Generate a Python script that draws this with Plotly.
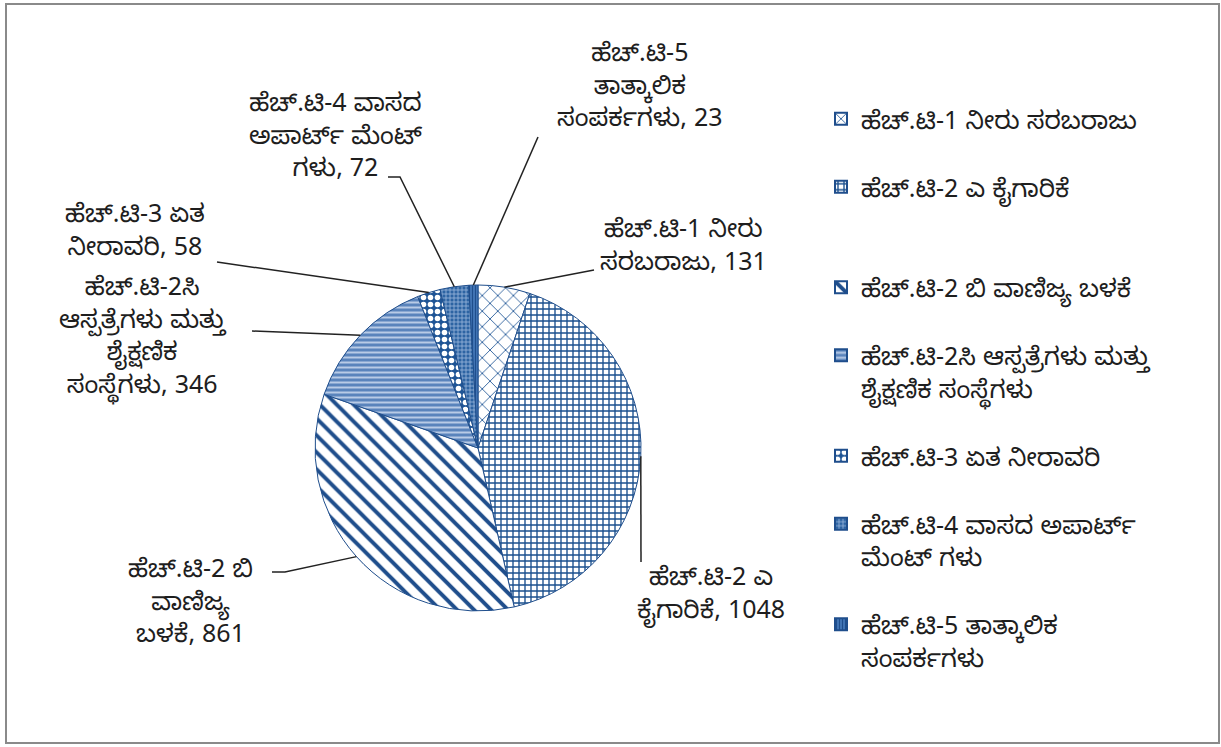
import math
import plotly.graph_objects as go

# ---- data ----
categories = [
    "ಹೆಚ್.ಟಿ-1 ನೀರು ಸರಬರಾಜು",
    "ಹೆಚ್.ಟಿ-2 ಎ ಕೈಗಾರಿಕೆ",
    "ಹೆಚ್.ಟಿ-2 ಬಿ ವಾಣಿಜ್ಯ ಬಳಕೆ",
    "ಹೆಚ್.ಟಿ-2ಸಿ ಆಸ್ಪತ್ರೆಗಳು ಮತ್ತು ಶೈಕ್ಷಣಿಕ ಸಂಸ್ಥೆಗಳು",
    "ಹೆಚ್.ಟಿ-3 ಏತ ನೀರಾವರಿ",
    "ಹೆಚ್.ಟಿ-4 ವಾಸದ ಅಪಾರ್ಟ್ ಮೆಂಟ್ ಗಳು",
    "ಹೆಚ್.ಟಿ-5 ತಾತ್ಕಾಲಿಕ ಸಂಪರ್ಕಗಳು",
]
values = [131, 1048, 861, 346, 58, 72, 23]

legend_names = [
    "ಹೆಚ್.ಟಿ-1 ನೀರು ಸರಬರಾಜು",
    "ಹೆಚ್.ಟಿ-2 ಎ ಕೈಗಾರಿಕೆ",
    "ಹೆಚ್.ಟಿ-2 ಬಿ ವಾಣಿಜ್ಯ ಬಳಕೆ",
    "ಹೆಚ್.ಟಿ-2ಸಿ ಆಸ್ಪತ್ರೆಗಳು ಮತ್ತು<br>ಶೈಕ್ಷಣಿಕ ಸಂಸ್ಥೆಗಳು",
    "ಹೆಚ್.ಟಿ-3 ಏತ ನೀರಾವರಿ",
    "ಹೆಚ್.ಟಿ-4 ವಾಸದ ಅಪಾರ್ಟ್<br>ಮೆಂಟ್ ಗಳು",
    "ಹೆಚ್.ಟಿ-5 ತಾತ್ಕಾಲಿಕ<br>ಸಂಪರ್ಕಗಳು",
]
label_lines = [
    ["ಹೆಚ್.ಟಿ-1 ನೀರು", "ಸರಬರಾಜು"],
    ["ಹೆಚ್.ಟಿ-2 ಎ", "ಕೈಗಾರಿಕೆ"],
    ["ಹೆಚ್.ಟಿ-2 ಬಿ", "ವಾಣಿಜ್ಯ", "ಬಳಕೆ"],
    ["ಹೆಚ್.ಟಿ-2ಸಿ", "ಆಸ್ಪತ್ರೆಗಳು ಮತ್ತು", "ಶೈಕ್ಷಣಿಕ", "ಸಂಸ್ಥೆಗಳು"],
    ["ಹೆಚ್.ಟಿ-3 ಏತ", "ನೀರಾವರಿ"],
    ["ಹೆಚ್.ಟಿ-4 ವಾಸದ", "ಅಪಾರ್ಟ್ ಮೆಂಟ್", "ಗಳು"],
    ["ಹೆಚ್.ಟಿ-5", "ತಾತ್ಕಾಲಿಕ", "ಸಂಪರ್ಕಗಳು"],
]

# ---- style ----
W, H = 1221, 747
CX, CY, R = 478, 448, 163  # pie centre / radius in px
legend_pad = [1, 2, 1, 1, 1, 1, 0]  # blank lines after legend entries (spacing)
patterns = dict(
    shape=["x", "+", "\\", "-", ".", "+", "|"],
    fgcolor=["#1F5596", "#1A4F8E", "#1F4E8C", "#B8CBE6", "#FFFFFF", "#9DB9DD", "#1F4E8C"],
    bgcolor=["#FFFFFF", "#FFFFFF", "#FFFFFF", "#5A84BC", "#1F5596", "#2D64A3", "#4A7FC0"],
    size=[11, 6, 12, 5, 7, 4, 3],
    solidity=[0.15, 0.4, 0.33, 0.4, 0.5, 0.35, 0.5],
    fillmode="replace",
)
# text centre positions (px) for outside labels, and leader-line end points (px)
label_pos = [(683, 250), (711, 598), (190, 606), (143, 340), (135, 235), (336, 140), (640, 90)]
leader_pts = [
    [(594, 270)],
    [(641, 562)],
    [(285, 572), (272, 572)],
    [(252, 331)],
    [(217, 262)],
    [(400, 177), (388, 177)],
    [(538, 137)],
]

FONT = "Noto Sans Kannada, Tunga, Noto Sans, Arial, sans-serif"
TXT = "#1E1E1E"

names = [n + "<br>\u00a0" * p for n, p in zip(legend_names, legend_pad)]

fig = go.Figure(
    go.Pie(
        labels=names,
        values=values,
        sort=False,
        direction="clockwise",
        rotation=0,
        textinfo="none",
        hoverinfo="label+value",
        marker=dict(line=dict(color="#1F4E8C", width=1), pattern=patterns),
        domain=dict(x=[(CX - R) / W, (CX + R) / W], y=[1 - (CY + R) / H, 1 - (CY - R) / H]),
    )
)


def px2paper(x, y):
    return x / W, 1 - y / H


# labels + leader lines anchored at slice mid-angles
total = sum(values)
cum = 0
for i, v in enumerate(values):
    mid = (cum + v / 2) / total * 2 * math.pi
    cum += v
    pts = [(CX + R * math.sin(mid), CY - R * math.cos(mid))] + leader_pts[i]
    path = "M " + " L ".join(f"{px2paper(x, y)[0]},{px2paper(x, y)[1]}" for x, y in pts)
    fig.add_shape(type="path", path=path, xref="paper", yref="paper",
                  line=dict(color="#222", width=1.5))
    tx, ty = label_pos[i]
    text = "<br>".join(label_lines[i][:-1] + [label_lines[i][-1] + f", {v}"])
    fig.add_annotation(
        x=px2paper(tx, ty)[0], y=px2paper(tx, ty)[1], xref="paper", yref="paper",
        xanchor="center", yanchor="middle", showarrow=False,
        text=text, align="center", font=dict(size=25, color=TXT, family=FONT),
    )

fig.add_shape(type="rect", xref="paper", yref="paper",
              x0=6 / W, x1=1219 / W, y0=1 - 743 / H, y1=1 - 4 / H,
              line=dict(color="#8A8A8A", width=2))

fig.update_layout(
    width=W, height=H,
    margin=dict(l=0, r=0, t=0, b=0),
    paper_bgcolor="white",
    showlegend=True,
    legend=dict(x=821 / W, y=1 - 96 / H, xanchor="left", yanchor="top",
                valign="top", font=dict(size=25, color=TXT, family=FONT),
                itemsizing="constant"),
    font=dict(family=FONT),
)

fig.write_html("out.html")
